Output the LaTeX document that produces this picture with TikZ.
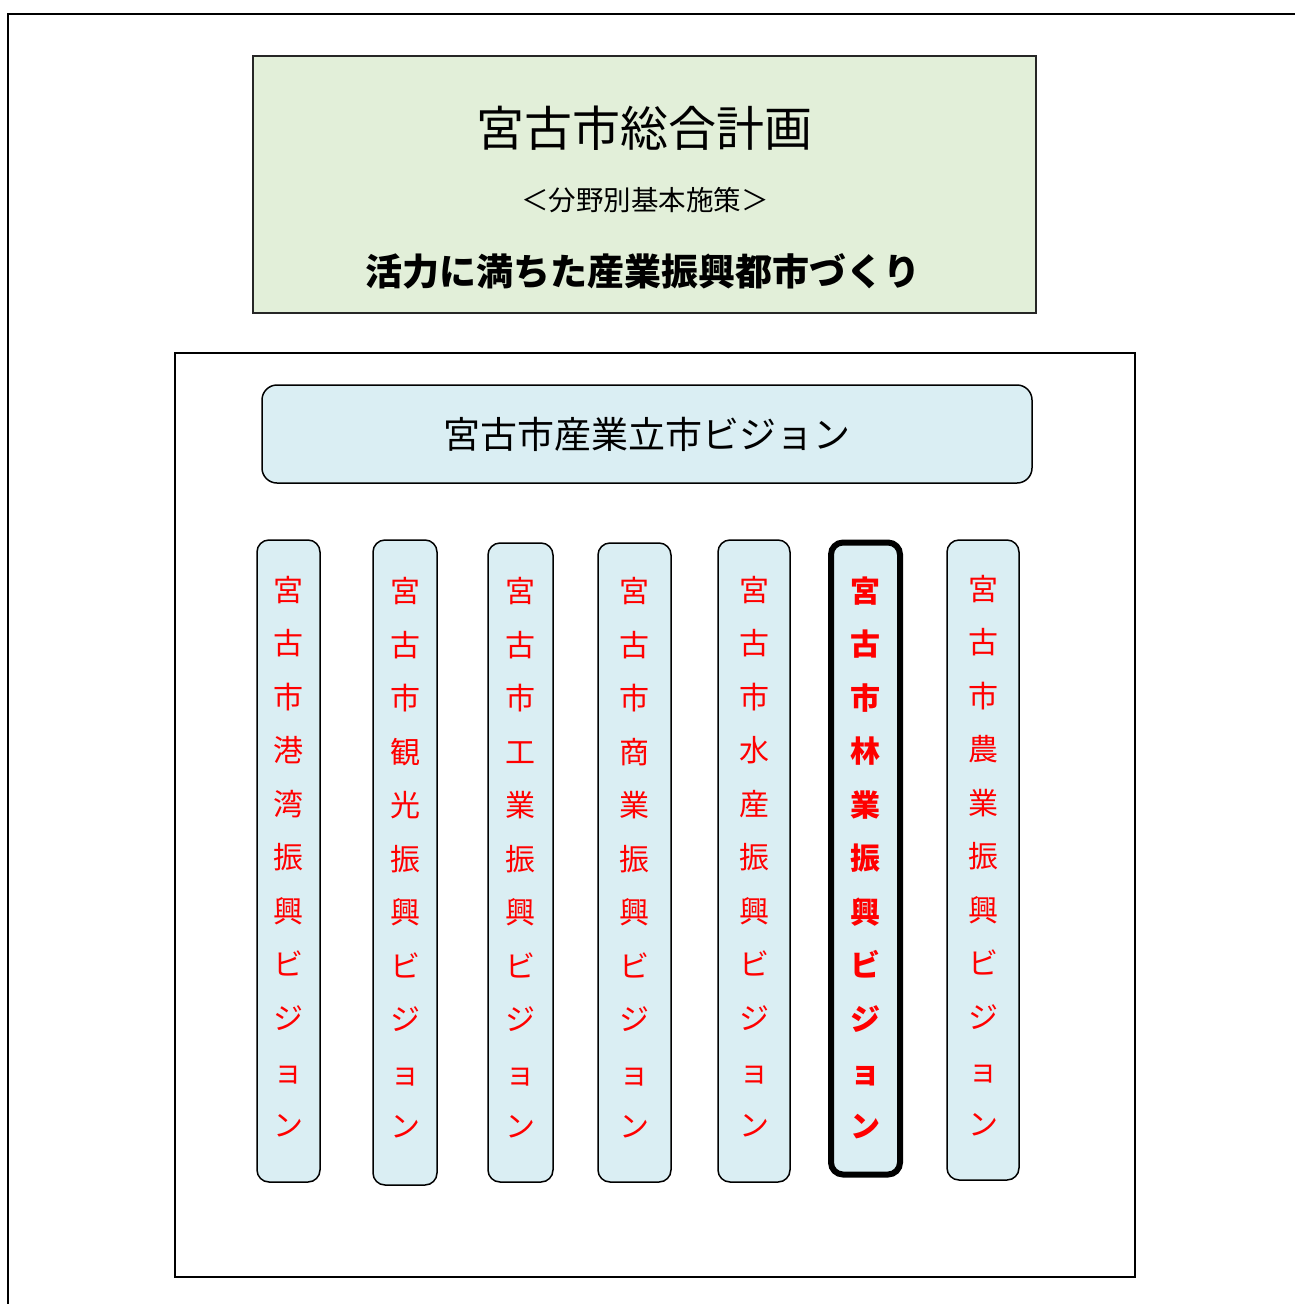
\documentclass[tikz,border=0pt]{standalone}
\usepackage{fontspec}
\newfontfamily\cjk{Noto Sans CJK JP}
\definecolor{greenbg}{HTML}{E2EFD9}
\definecolor{bluebg}{HTML}{DAEEF3}
\begin{document}
\begin{tikzpicture}[x=1pt,y=-1pt,
  planbox/.style={draw=black!85, line width=1.5pt, fill=greenbg, inner sep=0pt},
  framebox/.style={draw=black, line width=2pt, fill=white, inner sep=0pt},
  visionbox/.style={draw=black, line width=1.5pt, fill=bluebg, rounded corners=15pt, inner sep=0pt},
  colbox/.style={draw=black, line width=1.5pt, fill=bluebg, rounded corners=12pt, inner sep=0pt},
  hicol/.style={colbox, line width=6pt},
  coltext/.style={inner sep=0pt, align=center, text=red, yshift=4.5pt, font=\cjk\fontsize{30}{53.5}\selectfont},
  hitext/.style={coltext, yshift=-3.5pt, font=\cjk\bfseries\fontsize{30}{53.5}\selectfont},
  txt/.style={inner sep=0pt}
]
\useasboundingbox (0,0) rectangle (1295,1304);
\coordinate (ftop) at (1295,14);
\coordinate (fcorner) at (8,14);
\coordinate (fbot) at (8,1304);
\draw[line width=2pt] (ftop) -- (fcorner) -- (fbot);

\node[planbox, minimum width=783, minimum height=257] (plan) at (644.5,184.5) {};
\node[txt, font=\cjk\fontsize{48}{48}\selectfont] (title) at (644,128) {宮古市総合計画};
\node[txt, font=\cjk\fontsize{27.5}{27.5}\selectfont] (sub) at (645,200) {＜分野別基本施策＞};
\node[txt, font=\cjk\bfseries\fontsize{37}{37}\selectfont] (policy) at (643,271) {活力に満ちた産業振興都市づくり};

\node[framebox, minimum width=960, minimum height=924] (frame) at (655,815) {};
\node[visionbox, minimum width=770, minimum height=98, font=\cjk\fontsize{37}{37}\selectfont] (vision) at (647,434) {宮古市産業立市ビジョン};

\node[colbox, minimum width=63, minimum height=642, label={[coltext]center:宮\\古\\市\\港\\湾\\振\\興\\ビ\\ジ\\ョ\\ン}] (c1) at (288.5,861) {};
\node[colbox, minimum width=64, minimum height=645, label={[coltext]center:宮\\古\\市\\観\\光\\振\\興\\ビ\\ジ\\ョ\\ン}] (c2) at (405,862.5) {};
\node[colbox, minimum width=65, minimum height=639, label={[coltext]center:宮\\古\\市\\工\\業\\振\\興\\ビ\\ジ\\ョ\\ン}] (c3) at (520.5,862.5) {};
\node[colbox, minimum width=73, minimum height=639, label={[coltext]center:宮\\古\\市\\商\\業\\振\\興\\ビ\\ジ\\ョ\\ン}] (c4) at (634.5,862.5) {};
\node[colbox, minimum width=72, minimum height=642, label={[coltext]center:宮\\古\\市\\水\\産\\振\\興\\ビ\\ジ\\ョ\\ン}] (c5) at (754,861) {};
\node[hicol, minimum width=69, minimum height=632, label={[hitext]center:宮\\古\\市\\林\\業\\振\\興\\ビ\\ジ\\ョ\\ン}] (c6) at (865.5,858.5) {};
\node[colbox, minimum width=72, minimum height=640, label={[coltext]center:宮\\古\\市\\農\\業\\振\\興\\ビ\\ジ\\ョ\\ン}] (c7) at (983,860) {};
\end{tikzpicture}
\end{document}
